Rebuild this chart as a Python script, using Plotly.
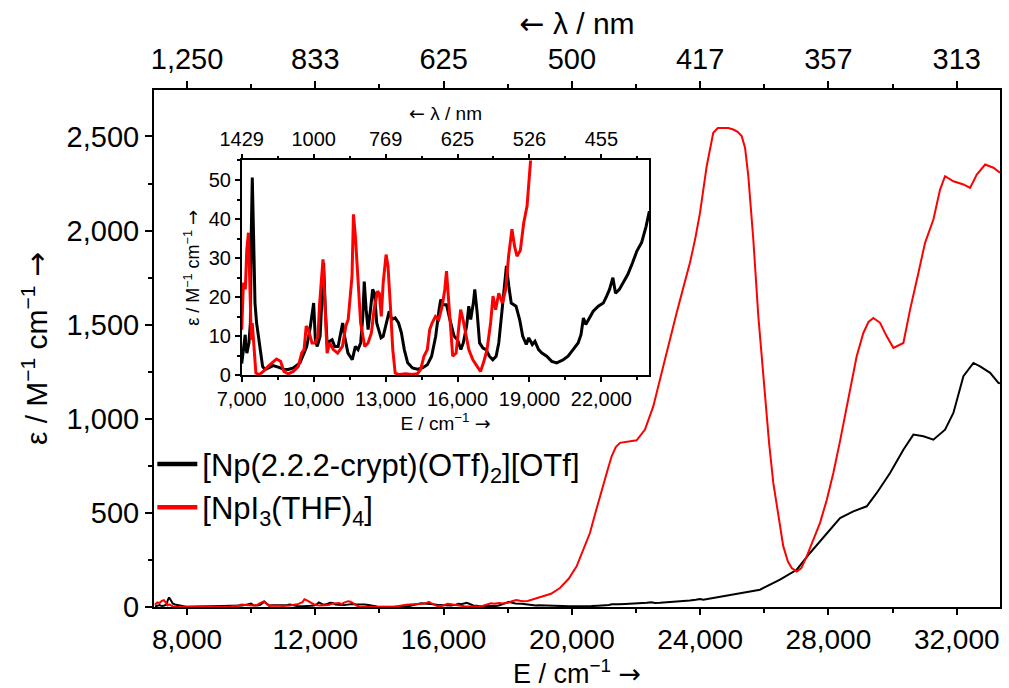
import plotly.graph_objects as go

# Absorption spectra (energy in cm^-1, molar absorptivity in M^-1 cm^-1)
E_crypt = [7000, 7035, 7090, 7145, 7180, 7215, 7300, 7360, 7400, 7440, 7490, 7553, 7620,
           7700, 7800, 7870, 7970, 8100, 8310, 8520, 8730, 8940, 9150, 9430, 9710, 9850,
           9950, 10000, 10070, 10150, 10270, 10360, 10415, 10480, 10560, 10670, 10770, 10880,
           11020, 11130, 11210, 11290, 11430, 11610, 11740, 11850, 11960, 12050, 12110, 12190,
           12270, 12370, 12460, 12540, 12630, 12710, 12810, 12900, 13010, 13150, 13260,
           13400, 13540, 13660, 13780, 13920, 14120, 14330, 14540, 14740, 14920, 15090,
           15230, 15300, 15400, 15540, 15680, 15860, 16000, 16140, 16240, 16380, 16470,
           16550, 16660, 16720, 16820, 16920, 17060, 17190, 17330, 17470, 17610, 17720,
           17830, 17940, 18040, 18140, 18240, 18440, 18590, 18720, 18870, 18970, 19120,
           19230, 19380, 19520, 19720, 19930, 20140, 20410, 20610, 20820, 21030, 21150,
           21250, 21350, 21460, 21660, 21870, 22080, 22220, 22340, 22480, 22590, 22750,
           22950, 23100, 23300, 23480, 23680, 23860, 24000, 24097, 24826, 25400, 25866, 26490,
           27011, 27426, 27946, 28362, 28777, 29195, 29507, 29922, 30337, 30649, 30961,
           31273, 31637, 31897, 32209, 32521, 32729, 33042, 33301, 33350]
eps_crypt = [3, 5, 7.4, 10.4, 7, 5.7, 8.3, 13.4, 37, 50.6, 37, 18.5, 13.4,
             10, 4.9, 2.3, 1.5, 1.9, 2.5, 2.1, 1.6, 1.5, 1.9, 3.2, 7.4, 12,
             16, 18.5, 9.1, 7.4, 10, 20, 28.8, 17.7, 8.3, 8.7, 9.1, 7.4,
             7.4, 10.9, 13.4, 10, 5.7, 4, 7.4, 6.6, 8.3, 15, 24, 16.8,
             11.7, 16.8, 22, 21, 13.4, 11.7, 9.6, 10, 12.6, 16.4, 14.3,
             14.7, 13.4, 10.9, 6.6, 3.2, 1.9, 1.6, 1.9, 2.7, 4.9, 10,
             16.8, 19.4, 18.1, 18.1, 14.3, 10, 9.1, 6.6, 8.3, 12.6, 17.7,
             14.3, 18.5, 22, 16, 8.3, 7, 6.6, 4.9, 4, 4.9, 8.3,
             15, 21, 28, 22.8, 18.5, 17.7, 14.3, 10, 7.9, 9.6, 7.9,
             8.7, 6.6, 5.7, 4.9, 3.6, 3.2, 4, 4.9, 6.6, 8.3, 10.4,
             14.7, 13, 14.3, 16.4, 17.7, 18.5, 20.3, 22, 25, 21, 22,
             24, 25.8, 28.8, 31.8, 34, 38, 42, 39, 60, 80, 92, 145,
             198, 287, 393, 473, 508, 535, 606, 712, 836, 916, 907,
             889, 942, 1031, 1226, 1297, 1279, 1244, 1191, 1188]

E_thf = [7000, 7070, 7150, 7210, 7280, 7350, 7400, 7440, 7510, 7590, 7730, 7900, 8100,
         8310, 8450, 8620, 8760, 8940, 9150, 9360, 9500, 9600, 9690, 9780, 9930, 10070,
         10180, 10250, 10390, 10470, 10560, 10670, 10820, 11000, 11200, 11340, 11440,
         11600, 11660, 11740, 11850, 11960, 12130, 12270, 12410, 12520, 12660, 12740,
         12820, 12900, 13020, 13100, 13200, 13300, 13400, 13560, 13840, 14110, 14320,
         14460, 14600, 14740, 14840, 14940, 15080, 15220, 15360, 15470, 15540, 15610,
         15710, 15800, 15940, 16050, 16130, 16230, 16330, 16470, 16640, 16820, 16960,
         17100, 17230, 17380, 17480, 17590, 17720, 17870, 18010, 18130, 18270, 18380,
         18480, 18620, 18760, 18900, 18990, 19070, 19350, 19627, 19900, 20148, 20350,
         20563, 20750, 20928, 21100, 21240, 21370, 21499, 21750, 22019, 22279, 22538,
         22850, 23050, 23268, 23480, 23682, 23850, 23995, 24204, 24409, 24550, 24721,
         24880, 25033, 25170, 25295, 25400, 25502, 25658, 25814, 26023, 26150, 26281,
         26450, 26593, 26740, 26855, 27011, 27150, 27323, 27520, 27738, 27950, 28153,
         28360, 28569, 28881, 29089, 29250, 29401, 29610, 29818, 30025, 30337, 30546,
         30805, 31013, 31273, 31481, 31637, 31897, 32209, 32417, 32626, 32886, 33145,
         33350]
eps_thf = [11.7, 23.7, 22, 32, 36.5, 22, 9.1, 13.4, 6.6, 0.6, 0.2, 1, 2.3,
           3.6, 4.2, 3.6, 1, 0.4, 1, 2.3, 5.7, 6.6, 12.6, 11.7, 8.3, 8.3,
           10, 18.5, 29.7, 18.5, 5.7, 8.3, 6.6, 5.7, 7.4, 12.6, 14.3,
           25.4, 41.2, 35.6, 25.4, 13.4, 7.4, 8.3, 10.9, 16.8, 21.5, 21,
           15.1, 23.7, 30.9, 28, 17.7, 6.6, 0.6, 0.2, 0.4, 0.2, 0.4,
           1.5, 4.9, 6.6, 11.7, 13.4, 15.1, 14.3, 17.7, 22, 26.7, 20.3,
           10.9, 4.9, 5.7, 11.7, 16.8, 14.3, 10.9, 6.6, 4, 2.3, 1,
           3.6, 6.6, 13.4, 20.3, 16.8, 21, 18.5, 22, 30.5, 37.4, 33,
           30.5, 32, 39, 43.3, 49.3, 55, 70, 101, 150, 216, 300,
           393, 510, 624, 720, 801, 850, 872, 880, 886, 943, 1066,
           1279, 1420, 1563, 1700, 1829, 1960, 2094, 2342, 2520, 2545, 2546,
           2545, 2537, 2525, 2502, 2440, 2289, 1952, 1545, 1102, 870, 659,
           470, 322, 240, 207, 189, 205, 269, 350, 447, 570, 712,
           880, 1066, 1332, 1456, 1515, 1536, 1510, 1438, 1377, 1403, 1580,
           1775, 1935, 2059, 2218, 2289, 2262, 2245, 2227, 2298, 2351, 2334,
           2307]

names = ["[Np(2.2.2-crypt)(OTf)<sub>2</sub>][OTf]", "[NpI<sub>3</sub>(THF)<sub>4</sub>]"]
colors = ["#000000", "#ff0000"]

# Wavelength labels on the top axes (nm = 1e7 / E)
main_E_ticks = [8000, 12000, 16000, 20000, 24000, 28000, 32000]
main_nm_labels = ["1,250", "833", "625", "500", "417", "357", "313"]
inset_E_ticks = [7000, 10000, 13000, 16000, 19000, 22000]
inset_nm_labels = ["1429", "1000", "769", "625", "526", "455"]

FONT = "Liberation Sans, Arial, sans-serif"
RARR = '<span style="font-family:DejaVu Sans">→</span>'
LARR = '<span style="font-family:DejaVu Sans">←</span>'
E_TITLE = "E / cm<sup>−1</sup> " + RARR
L_TITLE = LARR + " λ / nm"
EPS_TITLE = "ε / M<sup>−1</sup> cm<sup>−1</sup> " + RARR

main_range = [6970, 33350]
inset_range = [7000, 24000]

fig = go.Figure()
series = [(E_crypt, eps_crypt), (E_thf, eps_thf)]
for (xs, ys), name, col in zip(series, names, colors):
    fig.add_trace(go.Scatter(x=xs, y=ys, mode="lines", name=name, showlegend=False,
                             line=dict(color=col, width=2), xaxis="x", yaxis="y"))
for (xs, ys), name, col in zip(series, names, colors):
    fig.add_trace(go.Scatter(x=xs, y=ys, mode="lines", name=name, showlegend=False,
                             line=dict(color=col, width=3), xaxis="x3", yaxis="y3"))
# legend keys with a heavier stroke
for name, col in zip(names, colors):
    fig.add_trace(go.Scatter(x=[None], y=[None], mode="lines", name=name,
                             line=dict(color=col, width=4.5), xaxis="x", yaxis="y"))
# empty traces so the top (wavelength) axes get drawn
fig.add_trace(go.Scatter(x=[], y=[], xaxis="x2", yaxis="y", showlegend=False))
fig.add_trace(go.Scatter(x=[], y=[], xaxis="x4", yaxis="y3", showlegend=False))

axis_common = dict(showline=True, linecolor="black", showgrid=False, zeroline=False,
                   ticks="outside", tickcolor="black", automargin=False)

fig.update_layout(
    width=1009, height=688,
    margin=dict(l=154, r=9, t=90, b=81),
    paper_bgcolor="white", plot_bgcolor="white",
    font=dict(family=FONT, color="black"),
    showlegend=True,
    legend=dict(x=-0.002, y=0.328, xanchor="left", yanchor="top",
                bgcolor="rgba(0,0,0,0)", font=dict(size=31, family=FONT),
                itemwidth=40, tracegroupgap=0),
    xaxis=dict(**axis_common, range=main_range, domain=[0, 1], anchor="y",
               linewidth=2, tickwidth=2, ticklen=6, mirror=True,
               tick0=8000, dtick=4000, tickformat=",d",
               minor=dict(ticks="outside", ticklen=4, tickwidth=2, tickcolor="black",
                          tick0=10000, dtick=4000),
               tickfont=dict(size=28)),
    xaxis2=dict(**axis_common, range=main_range, overlaying="x", side="top", anchor="y",
                linewidth=2, tickwidth=2, ticklen=7,
                tickmode="array", tickvals=main_E_ticks, ticktext=main_nm_labels,
                minor=dict(ticks="outside", ticklen=4, tickwidth=2, tickcolor="black",
                           tickmode="array", tickvals=[10000, 14000, 18000, 22000, 26000, 30000]),
                tickfont=dict(size=29),
                title=dict(text=L_TITLE, font=dict(size=30), standoff=0)),
    yaxis=dict(**axis_common, range=[0, 2747], domain=[0, 1], anchor="x",
               linewidth=2, tickwidth=2, ticklen=7, mirror=True,
               tick0=0, dtick=500, tickformat=",d",
               minor=dict(ticks="outside", ticklen=4, tickwidth=2, tickcolor="black",
                          tick0=250, dtick=500),
               tickfont=dict(size=29),
               title=dict(text=EPS_TITLE, font=dict(size=30), standoff=10)),
    xaxis3=dict(**axis_common, range=inset_range, domain=[0.1037, 0.5855], anchor="y3",
                linewidth=1.5, tickwidth=1.5, ticklen=5, mirror=True,
                tick0=7000, dtick=3000, tickformat=",d",
                minor=dict(ticks="outside", ticklen=3, tickwidth=1.5, tickcolor="black",
                           tick0=8500, dtick=3000),
                tickfont=dict(size=20),
                title=dict(text=E_TITLE, font=dict(size=19), standoff=4)),
    xaxis4=dict(**axis_common, range=inset_range, overlaying="x3", side="top", anchor="y3",
                linewidth=1.5, tickwidth=1.5, ticklen=5,
                tickmode="array", tickvals=inset_E_ticks, ticktext=inset_nm_labels,
                minor=dict(ticks="outside", ticklen=3, tickwidth=1.5, tickcolor="black",
                           tickmode="array", tickvals=[8500, 11500, 14500, 17500, 20500, 23500]),
                tickfont=dict(size=20),
                title=dict(text=L_TITLE, font=dict(size=19), standoff=2)),
    yaxis3=dict(**axis_common, range=[0, 55], domain=[0.448, 0.8638], anchor="x3",
                linewidth=1.5, tickwidth=1.5, ticklen=5, mirror=True,
                tick0=0, dtick=10,
                minor=dict(ticks="outside", ticklen=3, tickwidth=1.5, tickcolor="black",
                           tick0=5, dtick=10),
                tickfont=dict(size=20),
                title=dict(text=EPS_TITLE, font=dict(size=18), standoff=4)),
)

# bottom axis title placed just below the tick labels
fig.add_annotation(text=E_TITLE, xref="paper", yref="paper", x=0.5, y=-0.162,
                   xanchor="center", yanchor="bottom", showarrow=False,
                   font=dict(size=27, family=FONT, color="black"))

fig.write_html("out.html")
